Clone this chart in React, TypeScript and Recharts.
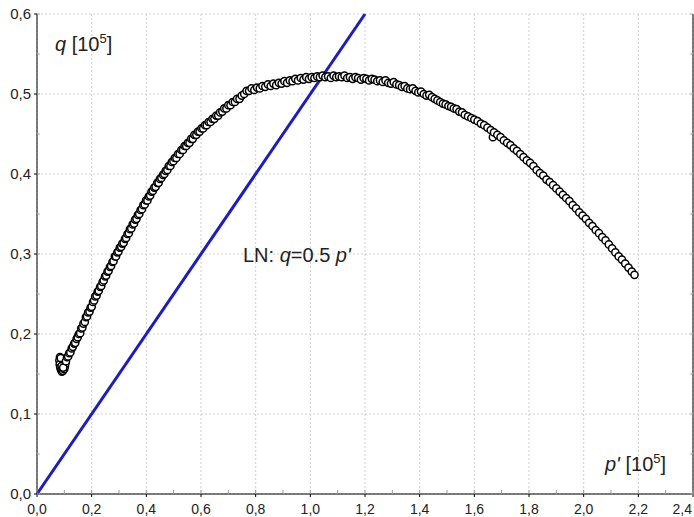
import React from 'react';
import { ScatterChart, Scatter, XAxis, YAxis, CartesianGrid, ReferenceLine } from 'recharts';

// p' and q in units of 10^5
const loopPts: [number, number][] = [
  [0.084, 0.171], [0.082, 0.167], [0.083, 0.162], [0.085, 0.158], [0.088, 0.155],
  [0.091, 0.153], [0.095, 0.154], [0.099, 0.156], [0.102, 0.159], [0.104, 0.163],
  [0.100, 0.166], [0.093, 0.168], [0.087, 0.170], [0.090, 0.160], [0.096, 0.158],
];

const risePts: [number, number][] = [
  [0.106, 0.166], [0.110, 0.171], [0.114, 0.172], [0.118, 0.176], [0.122, 0.177],
  [0.127, 0.182], [0.131, 0.184], [0.136, 0.188], [0.140, 0.189], [0.145, 0.194],
  [0.149, 0.196], [0.153, 0.200], [0.158, 0.201], [0.162, 0.207], [0.166, 0.208],
  [0.170, 0.213], [0.175, 0.215], [0.179, 0.221], [0.183, 0.222], [0.187, 0.227],
  [0.192, 0.228], [0.196, 0.233], [0.200, 0.234], [0.205, 0.240], [0.209, 0.242],
  [0.213, 0.247], [0.218, 0.248], [0.222, 0.253], [0.226, 0.254], [0.231, 0.259],
  [0.235, 0.260], [0.240, 0.265], [0.244, 0.267], [0.249, 0.272], [0.253, 0.273],
  [0.258, 0.278], [0.262, 0.279], [0.267, 0.284], [0.271, 0.285], [0.276, 0.290],
  [0.280, 0.291], [0.285, 0.297], [0.289, 0.297], [0.294, 0.302], [0.298, 0.303],
  [0.303, 0.308], [0.308, 0.309], [0.312, 0.313], [0.317, 0.314], [0.322, 0.319],
  [0.326, 0.320], [0.331, 0.325], [0.336, 0.326], [0.340, 0.331], [0.345, 0.332],
  [0.350, 0.337], [0.355, 0.338], [0.359, 0.343], [0.364, 0.344], [0.369, 0.349],
  [0.374, 0.350], [0.379, 0.355], [0.384, 0.356], [0.389, 0.361], [0.394, 0.362],
  [0.399, 0.367], [0.404, 0.367], [0.409, 0.372], [0.414, 0.373], [0.419, 0.378],
  [0.424, 0.379], [0.429, 0.383], [0.434, 0.384], [0.440, 0.389], [0.445, 0.389],
  [0.450, 0.394], [0.455, 0.395], [0.461, 0.399], [0.466, 0.400], [0.471, 0.404],
  [0.477, 0.405], [0.482, 0.410], [0.488, 0.410], [0.493, 0.415], [0.499, 0.416],
  [0.504, 0.420], [0.510, 0.420], [0.516, 0.425], [0.522, 0.425], [0.528, 0.430],
  [0.534, 0.430], [0.540, 0.435], [0.546, 0.435], [0.552, 0.439], [0.558, 0.439],
  [0.564, 0.444], [0.570, 0.444], [0.576, 0.449], [0.583, 0.449], [0.589, 0.453],
  [0.595, 0.453], [0.602, 0.457], [0.608, 0.457], [0.615, 0.461], [0.621, 0.461],
  [0.628, 0.465], [0.635, 0.465], [0.642, 0.469], [0.649, 0.469], [0.656, 0.473],
  [0.663, 0.473], [0.670, 0.477], [0.678, 0.478], [0.685, 0.482], [0.693, 0.482],
  [0.700, 0.486], [0.708, 0.486], [0.716, 0.490], [0.724, 0.490], [0.732, 0.494],
  [0.741, 0.494], [0.749, 0.498], [0.758, 0.500], [0.767, 0.504], [0.776, 0.504],
  [0.785, 0.507], [0.795, 0.505],
];

const peakPts: [number, number][] = [
  [0.805, 0.508], [0.815, 0.507], [0.825, 0.510], [0.835, 0.509], [0.845, 0.512],
  [0.855, 0.510], [0.865, 0.513], [0.875, 0.511], [0.885, 0.514], [0.895, 0.513],
  [0.905, 0.516], [0.915, 0.514], [0.925, 0.517], [0.935, 0.516], [0.945, 0.519],
  [0.955, 0.517], [0.965, 0.520], [0.975, 0.518], [0.985, 0.521], [0.995, 0.519],
  [1.005, 0.521], [1.015, 0.520], [1.025, 0.522], [1.035, 0.521], [1.045, 0.523],
  [1.055, 0.521], [1.065, 0.522], [1.075, 0.520], [1.085, 0.523], [1.095, 0.521],
  [1.105, 0.522], [1.115, 0.521], [1.125, 0.523], [1.135, 0.520], [1.145, 0.521],
  [1.155, 0.519], [1.165, 0.521], [1.175, 0.520], [1.185, 0.518], [1.195, 0.520],
  [1.205, 0.519], [1.215, 0.517], [1.225, 0.519], [1.235, 0.518], [1.245, 0.516],
  [1.255, 0.517], [1.265, 0.515], [1.275, 0.517], [1.285, 0.514], [1.295, 0.513],
  [1.305, 0.515], [1.315, 0.512], [1.325, 0.511], [1.335, 0.509], [1.345, 0.510],
  [1.355, 0.507], [1.365, 0.506], [1.375, 0.507], [1.385, 0.504], [1.395, 0.502],
  [1.405, 0.503], [1.415, 0.500], [1.425, 0.498], [1.435, 0.499], [1.445, 0.496],
  [1.455, 0.494], [1.465, 0.492], [1.475, 0.490], [1.485, 0.488], [1.495, 0.487],
];

const fallPts: [number, number][] = [
  [1.505, 0.485], [1.515, 0.484], [1.525, 0.482], [1.535, 0.481], [1.545, 0.478],
  [1.555, 0.477], [1.565, 0.474], [1.577, 0.472], [1.589, 0.470], [1.600, 0.468],
  [1.612, 0.466], [1.624, 0.463], [1.636, 0.461], [1.648, 0.458], [1.660, 0.455],
  [1.668, 0.446], [1.672, 0.452], [1.684, 0.449], [1.696, 0.446], [1.708, 0.442],
  [1.720, 0.439], [1.732, 0.436], [1.744, 0.432], [1.756, 0.429], [1.768, 0.425],
  [1.780, 0.421], [1.792, 0.417], [1.804, 0.414], [1.816, 0.410], [1.828, 0.405],
  [1.840, 0.401], [1.852, 0.398], [1.864, 0.393], [1.876, 0.390], [1.888, 0.386],
  [1.900, 0.382], [1.912, 0.378], [1.924, 0.374], [1.936, 0.370], [1.948, 0.366],
  [1.960, 0.361], [1.972, 0.357], [1.984, 0.352], [1.996, 0.348], [2.008, 0.344],
  [2.020, 0.339], [2.032, 0.335], [2.044, 0.330], [2.056, 0.326], [2.068, 0.321],
  [2.080, 0.317], [2.092, 0.312], [2.104, 0.307], [2.116, 0.302], [2.128, 0.297],
  [2.140, 0.293], [2.152, 0.288], [2.164, 0.283], [2.176, 0.278], [2.186, 0.274],
];

// failure line LN: q = 0.5 p'
const lnPoints = [{ x: 0, y: 0 }, { x: 1.2, y: 0.6 }];

const xTicks = [0, 0.1, 0.2, 0.3, 0.4, 0.5, 0.6, 0.7, 0.8, 0.9, 1.0, 1.1, 1.2, 1.3, 1.4, 1.5, 1.6, 1.7, 1.8, 1.9, 2.0, 2.1, 2.2, 2.3, 2.4];
const xMajor = [0, 0.2, 0.4, 0.6, 0.8, 1.0, 1.2, 1.4, 1.6, 1.8, 2.0, 2.2, 2.4];
const yTicks = [0, 0.05, 0.1, 0.15, 0.2, 0.25, 0.3, 0.35, 0.4, 0.45, 0.5, 0.55, 0.6];
const yMajor = [0, 0.1, 0.2, 0.3, 0.4, 0.5, 0.6];

const data = [...loopPts, ...risePts, ...peakPts, ...fallPts].map(([x, y]) => ({ x, y }));

const FONT = '"Liberation Sans", Arial, sans-serif';
const fmt = (v: number) => v.toFixed(1).replace('.', ',');
const isMajor = (v: number, step: number) => Math.round(v / step) % 2 === 0;

const BottomTick = (props: any) => {
  const { x, y, payload } = props;
  const major = isMajor(payload.value, 0.1);
  const last = payload.value >= 2.4;
  const ay = y - 10;
  return (
    <g>
      <line x1={x} x2={x} y1={ay} y2={ay - 4} stroke="#999" />
      {major && <line x1={x} x2={x} y1={ay} y2={ay + 3} stroke="#000" />}
      {major && (
        <text x={last ? x - 1 : x} y={y} dy="0.71em" textAnchor={last ? 'end' : 'middle'} fontSize={14} fontFamily={FONT} fill="#222">
          {fmt(payload.value)}
        </text>
      )}
    </g>
  );
};

const TopTick = (props: any) => {
  const { x, y } = props;
  return <line x1={x} x2={x} y1={y} y2={y + 4} stroke="#999" />;
};

const LeftTick = (props: any) => {
  const { x, y, payload } = props;
  const major = isMajor(payload.value, 0.05);
  const ax = x + 6;
  return (
    <g>
      <line x1={ax} x2={ax + 3} y1={y} y2={y} stroke="#aaa" />
      {major && <line x1={ax - 3} x2={ax} y1={y} y2={y} stroke="#000" />}
      {major && (
        <text x={x} y={y} dy="0.35em" textAnchor="end" fontSize={15} fontFamily={FONT} fill="#222">
          {fmt(payload.value)}
        </text>
      )}
    </g>
  );
};

const RightTick = (props: any) => {
  const { x, y } = props;
  return <line x1={x} x2={x - 3} y1={y} y2={y} stroke="#aaa" />;
};

const Dot = (props: any) => {
  const { cx, cy } = props;
  return <circle cx={cx} cy={cy} r={3.6} fill="#fff" stroke="#000" strokeWidth={1.5} />;
};

const label: React.CSSProperties = { position: 'absolute', fontFamily: FONT, color: '#222', whiteSpace: 'nowrap' };

export default function App() {
  return (
    <div style={{ position: 'absolute', left: 0, top: 0, width: 694, height: 517, background: '#fff', overflow: 'hidden' }}>
      <ScatterChart width={694} height={517} margin={{ top: 14, right: 0, bottom: 0, left: 0 }}>
        <CartesianGrid
          xAxisId="b"
          yAxisId="l"
          verticalValues={xMajor}
          horizontalValues={yMajor}
          stroke="#cfcfcf"
          strokeDasharray="2 2"
        />
        <XAxis
          xAxisId="b"
          type="number"
          dataKey="x"
          domain={[0, 2.4]}
          ticks={xTicks}
          interval={0}
          height={23}
          tickSize={0}
          tickMargin={10}
          tickLine={false}
          tick={<BottomTick />}
          axisLine={{ stroke: '#000' }}
          allowDataOverflow
        />
        <XAxis
          xAxisId="t"
          orientation="top"
          type="number"
          dataKey="x"
          domain={[0, 2.4]}
          ticks={xTicks}
          interval={0}
          height={0}
          tickSize={0}
          tickMargin={0}
          tickLine={false}
          tick={<TopTick />}
          axisLine={{ stroke: '#000' }}
          allowDataOverflow
        />
        <YAxis
          yAxisId="l"
          type="number"
          dataKey="y"
          domain={[0, 0.6]}
          ticks={yTicks}
          interval={0}
          width={37}
          tickSize={0}
          tickMargin={6}
          tickLine={false}
          tick={<LeftTick />}
          axisLine={{ stroke: '#000' }}
          allowDataOverflow
        />
        <YAxis
          yAxisId="r"
          orientation="right"
          type="number"
          dataKey="y"
          domain={[0, 0.6]}
          ticks={yTicks}
          interval={0}
          width={1}
          tickSize={0}
          tickMargin={0}
          tickLine={false}
          tick={<RightTick />}
          axisLine={{ stroke: '#000' }}
          allowDataOverflow
        />
        <Scatter xAxisId="b" yAxisId="l" data={data} shape={<Dot />} isAnimationActive={false} />
        <ReferenceLine
          xAxisId="b"
          yAxisId="l"
          segment={lnPoints}
          stroke="#1b1bc9"
          strokeWidth={3}
        />
      </ScatterChart>
      <div style={{ ...label, left: 55, top: 31, fontSize: 20 }}>
        <i>q</i> [10<sup style={{ fontSize: 13 }}>5</sup>]
      </div>
      <div style={{ ...label, left: 243, top: 244, fontSize: 20 }}>
        LN: <i>q</i>=0.5 <i>p'</i>
      </div>
      <div style={{ ...label, left: 605, top: 451, fontSize: 20 }}>
        <i>p'</i> [10<sup style={{ fontSize: 13 }}>5</sup>]
      </div>
    </div>
  );
}
